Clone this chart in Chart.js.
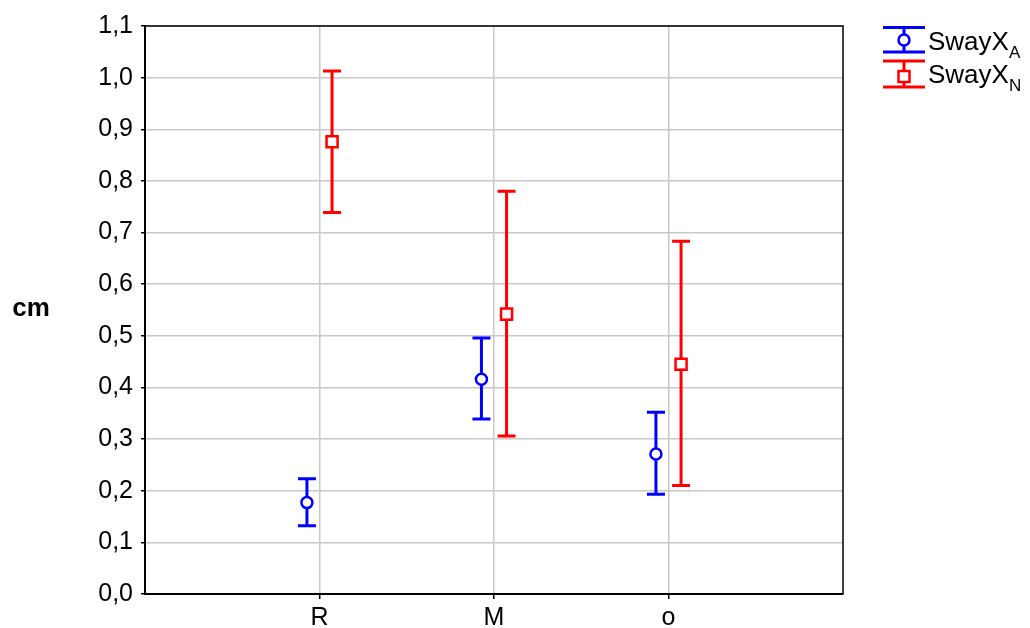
<!DOCTYPE html>
<html>
<head>
<meta charset="utf-8">
<script src="https://cdn.jsdelivr.net/npm/chart.js@4/dist/chart.umd.min.js"></script>
<style>
  body { margin: 0; background: #fff; }
  #wrap { position: relative; width: 1030px; height: 628px; font-family: "Liberation Sans", Arial, sans-serif; color: #000; }
  #chart { position: absolute; left: 0; top: 0; }
  .ylab { position: absolute; left: 0; top: 292px; width: 62px; text-align: center; font-weight: bold; font-size: 26px; line-height: 30px; }
  .leg { position: absolute; left: 928px; font-size: 26px; line-height: 26px; white-space: nowrap; }
  .leg sub { font-size: 17px; position: relative; top: 8px; vertical-align: baseline; }
  .sym { position: absolute; left: 882px; }
</style>
</head>
<body>
<div id="wrap">
  <canvas id="chart" width="1030" height="628"></canvas>
  <div class="ylab">cm</div>
  <svg class="sym" style="top:25px" width="46" height="30">
    <g stroke="#0000ff" stroke-width="3" fill="#fff">
      <line x1="1" y1="2.5" x2="43" y2="2.5"/>
      <line x1="1" y1="27" x2="43" y2="27"/>
      <line x1="22" y1="2.5" x2="22" y2="27"/>
      <circle cx="22" cy="15" r="5.5" stroke-width="2.5"/>
    </g>
  </svg>
  <div class="leg" style="top:28px">SwayX<sub>A</sub></div>
  <svg class="sym" style="top:58px" width="46" height="32">
    <g stroke="#ff0000" stroke-width="3" fill="#fff">
      <line x1="1" y1="3" x2="43" y2="3"/>
      <line x1="1" y1="29" x2="43" y2="29"/>
      <line x1="22" y1="3" x2="22" y2="29"/>
      <rect x="16.5" y="13" width="11" height="11" stroke-width="2.5"/>
    </g>
  </svg>
  <div class="leg" style="top:61px">SwayX<sub>N</sub></div>
</div>
<script>
// data
const categories = ['R', 'M', 'o'];
const meanA = [0.177, 0.416, 0.271];
const lowA  = [0.132, 0.339, 0.193];
const highA = [0.223, 0.496, 0.352];
const meanN = [0.876, 0.542, 0.445];
const lowN  = [0.739, 0.306, 0.210];
const highN = [1.013, 0.780, 0.683];
const yTicks = [0, 0.1, 0.2, 0.3, 0.4, 0.5, 0.6, 0.7, 0.8, 0.9, 1.0, 1.1];

const DODGE = 0.072; // side shift of the two series around each category
const CAP = 9;

function points(mean, low, high, shift) {
  return mean.map((m, i) => ({ x: i + 1 + shift, y: m, lo: low[i], hi: high[i] }));
}

const errorBars = {
  id: 'errorBars',
  beforeDatasetsDraw(chart) {
    const { ctx, scales: { x, y } } = chart;
    chart.data.datasets.forEach(ds => {
      ctx.save();
      ctx.strokeStyle = ds.borderColor;
      ctx.lineWidth = 3;
      ds.data.forEach(p => {
        const px = x.getPixelForValue(p.x);
        const top = y.getPixelForValue(p.hi);
        const bot = y.getPixelForValue(p.lo);
        ctx.beginPath();
        ctx.moveTo(px, top); ctx.lineTo(px, bot);
        ctx.moveTo(px - CAP, top); ctx.lineTo(px + CAP, top);
        ctx.moveTo(px - CAP, bot); ctx.lineTo(px + CAP, bot);
        ctx.stroke();
      });
      ctx.restore();
    });
  }
};

const frame = {
  id: 'frame',
  afterDraw(chart) {
    const { ctx, chartArea: a } = chart;
    ctx.save();
    ctx.strokeStyle = '#000';
    ctx.lineWidth = 1.5;
    ctx.beginPath();
    ctx.moveTo(a.left, a.top); ctx.lineTo(a.right, a.top); ctx.lineTo(a.right, a.bottom);
    ctx.stroke();
    ctx.restore();
  }
};

const tickFont = { family: '"Liberation Sans", Arial, sans-serif', size: 25 };

new Chart(document.getElementById('chart'), {
  type: 'scatter',
  data: {
    datasets: [{
      label: 'SwayX A',
      data: points(meanA, lowA, highA, -DODGE),
      borderColor: '#0000ff',
      backgroundColor: '#fff',
      pointStyle: 'circle',
      pointRadius: 5.5,
      pointBorderWidth: 2.5
    }, {
      label: 'SwayX N',
      data: points(meanN, lowN, highN, DODGE),
      borderColor: '#ff0000',
      backgroundColor: '#fff',
      pointStyle: 'rect',
      pointRadius: 7.8,
      pointBorderWidth: 2.5
    }]
  },
  options: {
    responsive: false,
    animation: false,
    devicePixelRatio: 1,
    layout: { padding: { top: 26, right: 187, bottom: 0, left: 0 } },
    plugins: { legend: { display: false }, tooltip: { enabled: false } },
    scales: {
      x: {
        type: 'linear',
        min: 0,
        max: categories.length + 1,
        afterBuildTicks: s => { s.ticks = categories.map((c, i) => ({ value: i + 1 })); },
        afterFit: s => { s.height = 34; },
        ticks: { font: tickFont, color: '#000', padding: 4, maxRotation: 0, callback: v => categories[v - 1] },
        grid: { color: '#c8c8c8', lineWidth: 1.5, tickColor: '#000', tickLength: 5 },
        border: { color: '#000', width: 2 }
      },
      y: {
        min: 0,
        max: 1.1,
        afterBuildTicks: s => { s.ticks = yTicks.map(v => ({ value: v })); },
        afterFit: s => { s.width = 145; },
        ticks: { font: tickFont, color: '#000', padding: 8, callback: v => v.toFixed(1).replace('.', ',') },
        grid: { color: '#c8c8c8', lineWidth: 1.5, tickColor: '#000', tickLength: 4 },
        border: { color: '#000', width: 2 }
      }
    }
  },
  plugins: [errorBars, frame]
});
</script>
</body>
</html>
